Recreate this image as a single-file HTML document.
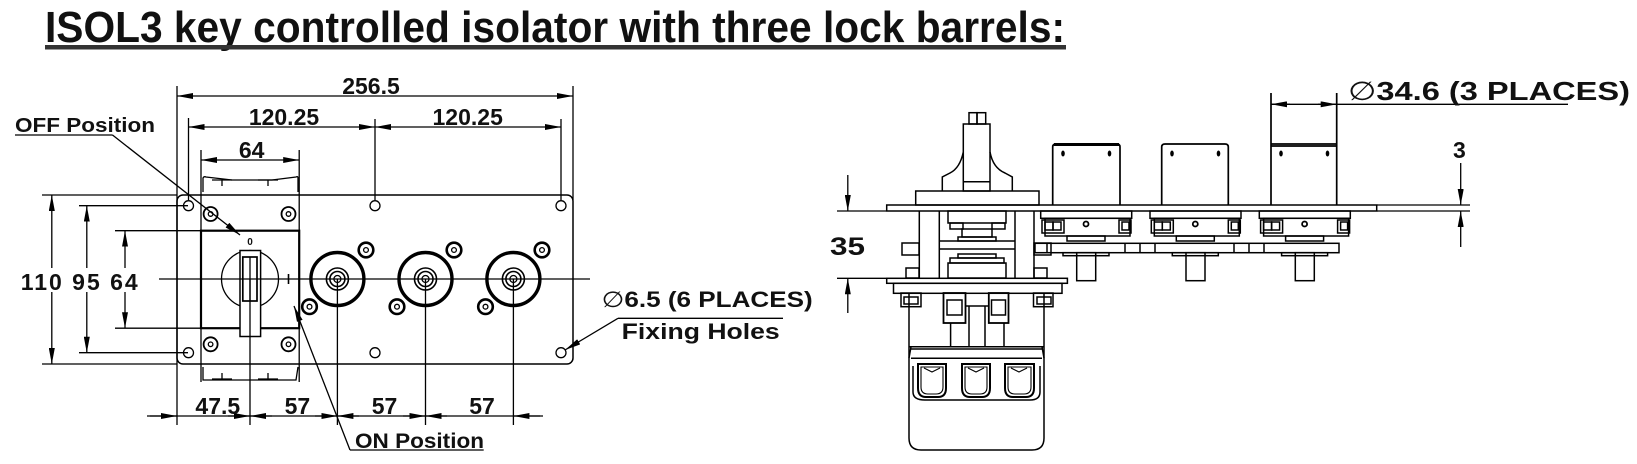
<!DOCTYPE html>
<html><head><meta charset="utf-8"><style>
html,body{margin:0;padding:0;background:#fff;}
svg{display:block;}
text{font-family:"Liberation Sans",Arial,sans-serif;font-weight:bold;fill:#111;}
</style></head><body>
<svg width="1637" height="464" viewBox="0 0 1637 464" xmlns="http://www.w3.org/2000/svg">
<defs>
<marker id="a" viewBox="0 0 16 6" refX="16" refY="3" markerWidth="16" markerHeight="6" markerUnits="userSpaceOnUse" orient="auto-start-reverse"><path d="M0,0L16,3L0,6z" fill="#000"/></marker>
</defs>
<!-- Title -->
<text x="45" y="42" font-size="44" textLength="1020" lengthAdjust="spacingAndGlyphs" fill="#333">ISOL3 key controlled isolator with three lock barrels:</text>
<rect x="45" y="45" width="1021" height="4.5" fill="#333"/>

<g stroke="#000" fill="none" stroke-width="1.3">
<line x1="177" y1="86" x2="177" y2="425"/>
<line x1="573" y1="86" x2="573" y2="200"/>
<line x1="188.5" y1="118" x2="188.5" y2="200"/>
<line x1="375" y1="119" x2="375" y2="200"/>
<line x1="561" y1="119" x2="561" y2="200"/>
<line x1="201" y1="150" x2="201" y2="382"/>
<line x1="299.2" y1="150" x2="299.2" y2="382"/>
<line x1="177" y1="96" x2="573" y2="96" marker-start="url(#a)" marker-end="url(#a)"/>
<line x1="188.5" y1="127" x2="375" y2="127" marker-start="url(#a)" marker-end="url(#a)"/>
<line x1="375" y1="127" x2="561" y2="127" marker-start="url(#a)" marker-end="url(#a)"/>
<line x1="201" y1="160" x2="299.2" y2="160" marker-start="url(#a)" marker-end="url(#a)"/>

<rect x="177" y="195" width="396" height="169" rx="6" stroke-width="1.5"/>
<path d="M203,192 L203,178 Q204,176 206,177 L232,180 L272,180 L296,177 Q298,176 298,178 L298,192"/>
<path d="M212,180 L232,180 M222,180 L222,186 M258,180 L278,180 M268,180 L268,186"/>
<path d="M203,367 L203,380 L296,380 L298,367"/>
<path d="M212,379 L232,379 M222,373 L222,379 M258,379 L278,379 M268,373 L268,379"/>
<rect x="201" y="230.7" width="98.2" height="97.5" stroke-width="2.2"/>
<circle cx="250" cy="279" r="28.5"/>
<rect x="240" y="250.5" width="20.6" height="86" fill="#fff" stroke-width="1.5"/>
<rect x="242.8" y="257" width="14.2" height="44" stroke-width="1.7"/>
<line x1="250" y1="257" x2="250" y2="301"/>
<g stroke-width="1.8">
<circle cx="210.6" cy="214" r="7"/><circle cx="288.5" cy="214" r="7"/>
<circle cx="210.6" cy="344.3" r="7"/><circle cx="288.5" cy="344.3" r="7"/>
</g>
<g stroke-width="1.3">
<circle cx="210.6" cy="214" r="2.3"/><circle cx="288.5" cy="214" r="2.3"/>
<circle cx="210.6" cy="344.3" r="2.3"/><circle cx="288.5" cy="344.3" r="2.3"/>
</g>
<g stroke-width="1.3">
<circle cx="188.5" cy="205.7" r="5"/><circle cx="375" cy="205.7" r="5"/><circle cx="561" cy="205.7" r="5"/>
<circle cx="188.5" cy="352.7" r="5"/><circle cx="375" cy="352.7" r="5"/><circle cx="561" cy="352.7" r="5"/>
</g>
<g>
<circle cx="337.4" cy="279" r="26.5" stroke-width="3.4"/>
<circle cx="337.4" cy="279" r="11" stroke-width="1.6"/><circle cx="337.4" cy="279" r="7.5" stroke-width="1.6"/><circle cx="337.4" cy="279" r="3.5"/>
<circle cx="425.5" cy="279" r="26.5" stroke-width="3.4"/>
<circle cx="425.5" cy="279" r="11" stroke-width="1.6"/><circle cx="425.5" cy="279" r="7.5" stroke-width="1.6"/><circle cx="425.5" cy="279" r="3.5"/>
<circle cx="513.4" cy="279" r="26.5" stroke-width="3.4"/>
<circle cx="513.4" cy="279" r="11" stroke-width="1.6"/><circle cx="513.4" cy="279" r="7.5" stroke-width="1.6"/><circle cx="513.4" cy="279" r="3.5"/>
</g>
<g stroke-width="2.6">
<circle cx="366" cy="250" r="7.3"/><circle cx="309.5" cy="306.7" r="7.3"/>
<circle cx="454" cy="250" r="7.3"/><circle cx="397" cy="306.7" r="7.3"/>
<circle cx="542" cy="250" r="7.3"/><circle cx="485.5" cy="306.7" r="7.3"/>
</g>
<g stroke-width="1.3">
<circle cx="366" cy="250" r="2.4"/><circle cx="309.5" cy="306.7" r="2.4"/>
<circle cx="454" cy="250" r="2.4"/><circle cx="397" cy="306.7" r="2.4"/>
<circle cx="542" cy="250" r="2.4"/><circle cx="485.5" cy="306.7" r="2.4"/>
</g>
<line x1="159" y1="279" x2="590" y2="279"/>
<line x1="250" y1="279" x2="250" y2="425"/>
<line x1="337.4" y1="279" x2="337.4" y2="425"/>
<line x1="425.5" y1="279" x2="425.5" y2="425"/>
<line x1="513.4" y1="279" x2="513.4" y2="425"/>
<line x1="288.5" y1="274" x2="288.5" y2="284" stroke-width="1.6"/>
<line x1="42" y1="195" x2="177" y2="195"/>
<line x1="42" y1="364" x2="177" y2="364"/>
<line x1="79" y1="205.7" x2="188" y2="205.7"/>
<line x1="79" y1="352.7" x2="188" y2="352.7"/>
<line x1="115" y1="230.7" x2="201" y2="230.7"/>
<line x1="115" y1="328.2" x2="201" y2="328.2"/>
<line x1="51.8" y1="268" x2="51.8" y2="195" marker-end="url(#a)"/>
<line x1="51.8" y1="292" x2="51.8" y2="364" marker-end="url(#a)"/>
<line x1="86.8" y1="268" x2="86.8" y2="205.7" marker-end="url(#a)"/>
<line x1="86.8" y1="292" x2="86.8" y2="352.7" marker-end="url(#a)"/>
<line x1="125" y1="268" x2="125" y2="230.7" marker-end="url(#a)"/>
<line x1="125" y1="292" x2="125" y2="328.2" marker-end="url(#a)"/>
<line x1="147" y1="416" x2="543" y2="416"/>
<line x1="150" y1="416" x2="177" y2="416" marker-end="url(#a)"/>
<line x1="228" y1="416" x2="250" y2="416" marker-end="url(#a)"/>
<line x1="272" y1="416" x2="250" y2="416" marker-end="url(#a)"/>
<line x1="315" y1="416" x2="337.4" y2="416" marker-end="url(#a)"/>
<line x1="359" y1="416" x2="337.4" y2="416" marker-end="url(#a)"/>
<line x1="403" y1="416" x2="425.5" y2="416" marker-end="url(#a)"/>
<line x1="447" y1="416" x2="425.5" y2="416" marker-end="url(#a)"/>
<line x1="540" y1="416" x2="513.4" y2="416" marker-end="url(#a)"/>
<line x1="15" y1="135" x2="112.5" y2="135"/>
<line x1="112.5" y1="135" x2="240" y2="235" marker-end="url(#a)"/>
<line x1="350" y1="450" x2="483.7" y2="450"/>
<line x1="350" y1="450" x2="294" y2="306" marker-end="url(#a)"/>
<line x1="618" y1="318.3" x2="783" y2="318.3"/>
<line x1="618" y1="318.3" x2="565" y2="350" marker-end="url(#a)"/>

<!-- RIGHT VIEW -->
<rect x="886.7" y="205" width="490" height="6" stroke-width="1.5"/>
<line x1="1377" y1="205" x2="1470" y2="205"/>
<line x1="1377" y1="211" x2="1470" y2="211"/>
<rect x="915.7" y="191" width="123.3" height="14" stroke-width="1.5"/>
<path d="M942.3,191 L942.3,177 L950,173 Q960,168 963.3,152 M1012.3,191 L1012.3,177 L1005,173 Q993,168 990,152" stroke-width="1.5"/>
<rect x="963.3" y="124" width="26.7" height="67" stroke-width="1.5"/>
<line x1="963.3" y1="181.7" x2="990" y2="181.7" stroke-width="1.5"/>
<rect x="969" y="112.7" width="8" height="11.3" stroke-width="1.5"/>
<rect x="977" y="112.7" width="8.7" height="11.3" stroke-width="1.5"/>
<g stroke-width="1.5">
<line x1="919.3" y1="211" x2="919.3" y2="278"/><line x1="939.3" y1="211" x2="939.3" y2="278"/>
<line x1="1015" y1="211" x2="1015" y2="278"/><line x1="1034" y1="211" x2="1034" y2="278"/>
<rect x="948" y="211" width="58" height="12"/><rect x="950" y="223" width="13" height="6"/><rect x="992" y="223" width="13" height="6"/>
<rect x="962" y="229" width="30" height="8"/><rect x="958" y="237" width="38" height="4"/>
<line x1="939.3" y1="241" x2="1015" y2="241"/><line x1="939.3" y1="249" x2="1015" y2="249"/>
<rect x="958" y="254" width="38" height="4"/><rect x="950" y="258" width="54" height="5"/>
<rect x="948" y="263" width="58" height="15"/>
<rect x="902" y="243" width="17" height="12"/><rect x="1034" y="243" width="17" height="12"/>
<rect x="906" y="268" width="13" height="10"/><rect x="1034" y="268" width="13" height="10"/>
<rect x="886.7" y="278.3" width="180.7" height="5"/>
<rect x="893.5" y="283.3" width="168.5" height="10"/>
<path d="M909,293 L909,438 Q909,450 921,450 L1032,450 Q1044,450 1044,438 L1044,293"/>
<rect x="901" y="293" width="20" height="13.7"/><rect x="904" y="297" width="14" height="7"/>
<rect x="1033.5" y="293" width="19.5" height="13.7"/><rect x="1037" y="297" width="14" height="7"/>
<rect x="943.5" y="293" width="22" height="30" stroke-width="1.8"/><rect x="947" y="300" width="15" height="15"/>
<rect x="988.8" y="293" width="19.7" height="30" stroke-width="1.8"/><rect x="991.5" y="300" width="14" height="15"/>
<path d="M965.5,306 L988.8,306 M950.6,323 L950.6,346.7 M969,306 L969,346.7 M985,306 L985,346.7 M1004,323 L1004,346.7"/>
<line x1="909" y1="346.7" x2="1044" y2="346.7"/>
<line x1="911" y1="349" x2="1042" y2="349"/>
<line x1="911" y1="358.3" x2="1042" y2="358.3"/>
<path d="M909,358 L911,346.7 M1044,358 L1042,346.7"/>
<path d="M913,366 L913,392 Q913,400 925,400 L1030,400 Q1040,400 1040,392 L1040,366"/>
</g>
<g stroke-width="2">
<path d="M918,364 L946,364 L946,388 Q946,397 938,397 L926,397 Q918,397 918,388 Z"/>
<path d="M962,364 L990,364 L990,388 Q990,397 982,397 L970,397 Q962,397 962,388 Z"/>
<path d="M1005,364 L1034,364 L1034,388 Q1034,397 1026,397 L1013,397 Q1005,397 1005,388 Z"/>
</g>
<g stroke-width="1.1">
<path d="M921,367 L943,367 L943,387 Q943,394 936,394 L928,394 Q921,394 921,387 Z M924,368 L932,372 L940,368"/>
<path d="M965,367 L987,367 L987,387 Q987,394 980,394 L972,394 Q965,394 965,387 Z M968,368 L976,372 L984,368"/>
<path d="M1008,367 L1031,367 L1031,387 Q1031,394 1024,394 L1015,394 Q1008,394 1008,387 Z M1011,368 L1019,372 L1027,368"/>
</g>
<g stroke-width="1.7">
<path d="M1052.7,205 L1052.7,147 Q1052.7,144 1056,144 L1117,144 Q1120,144 1120,147 L1120,205"/>
<path d="M1161.7,205 L1161.7,147 Q1161.7,144 1165,144 L1225,144 Q1228.3,144 1228.3,147 L1228.3,205"/>
<path d="M1271,205 L1271,93 M1336.7,205 L1336.7,93 M1271,144 L1336.7,144 M1271,146 L1336.7,146"/>
</g>
<line x1="1054" y1="144.5" x2="1119" y2="144.5" stroke-width="3"/>
<g fill="#000" stroke="none">
<ellipse cx="1063" cy="153.5" rx="1.8" ry="3"/><ellipse cx="1109.5" cy="153.5" rx="1.8" ry="3"/>
<ellipse cx="1172" cy="153.5" rx="1.8" ry="3"/><ellipse cx="1218.5" cy="153.5" rx="1.8" ry="3"/>
<ellipse cx="1281" cy="153.5" rx="1.8" ry="3"/><ellipse cx="1327.5" cy="153.5" rx="1.8" ry="3"/>
</g>
<g id="sub" stroke-width="1.5">
<rect x="1040.7" y="211" width="91" height="7.3"/>
<rect x="1045" y="218.3" width="85" height="17.7"/>
<rect x="1042" y="220" width="22" height="13"/><rect x="1045" y="222" width="8" height="8"/><rect x="1053" y="222" width="8" height="8"/>
<rect x="1119" y="220" width="12" height="13"/><rect x="1122" y="222" width="7" height="8"/>
<circle cx="1086" cy="224" r="2.5" stroke-width="1.8"/>
<rect x="1067" y="236" width="38" height="5"/>
<rect x="1076.7" y="252.7" width="19" height="28"/>
<rect x="1063" y="252.7" width="46" height="3"/>
</g>
<use href="#sub" x="109.3"/>
<use href="#sub" x="218.6"/>
<rect x="1035" y="243.3" width="304" height="9.4" stroke-width="1.5"/>
<g stroke-width="1.5">
<line x1="1047" y1="243.3" x2="1047" y2="252.7"/><line x1="1125" y1="243.3" x2="1125" y2="252.7"/><line x1="1140" y1="243.3" x2="1140" y2="252.7"/><line x1="1155" y1="243.3" x2="1155" y2="252.7"/>
<line x1="1234" y1="243.3" x2="1234" y2="252.7"/><line x1="1249" y1="243.3" x2="1249" y2="252.7"/><line x1="1264" y1="243.3" x2="1264" y2="252.7"/>
</g>
<line x1="837" y1="211" x2="886" y2="211"/>
<line x1="837" y1="278.3" x2="886" y2="278.3"/>
<line x1="847.8" y1="175" x2="847.8" y2="211" marker-end="url(#a)"/>
<line x1="847.8" y1="313" x2="847.8" y2="278.3" marker-end="url(#a)"/>
<line x1="1460.7" y1="163" x2="1460.7" y2="205" marker-end="url(#a)"/>
<line x1="1460.7" y1="247" x2="1460.7" y2="211" marker-end="url(#a)"/>
<line x1="1290" y1="104.3" x2="1271" y2="104.3" marker-end="url(#a)"/>
<line x1="1318" y1="104.3" x2="1336.7" y2="104.3" marker-end="url(#a)"/>
<line x1="1271" y1="104.3" x2="1568" y2="104.3"/>
</g>

<text x="371" y="94" font-size="23" text-anchor="middle">256.5</text>
<text x="284" y="125" font-size="23" text-anchor="middle">120.25</text>
<text x="467.7" y="125" font-size="23" text-anchor="middle">120.25</text>
<text x="251.7" y="158" font-size="23" text-anchor="middle">64</text>
<text x="15" y="132" font-size="20" textLength="140" lengthAdjust="spacingAndGlyphs">OFF Position</text>
<text x="250" y="245" font-size="10" font-weight="normal" text-anchor="middle">0</text>
<text x="20.7" y="290" font-size="23" textLength="117" lengthAdjust="spacing">110 95 64</text>
<text x="217.8" y="414" font-size="23" text-anchor="middle">47.5</text>
<text x="297.4" y="414" font-size="23" text-anchor="middle">57</text>
<text x="384.5" y="414" font-size="23" text-anchor="middle">57</text>
<text x="482" y="414" font-size="23" text-anchor="middle">57</text>
<text x="355" y="448" font-size="21" textLength="129" lengthAdjust="spacingAndGlyphs">ON Position</text>
<text x="601.7" y="307" font-size="22" textLength="211" lengthAdjust="spacingAndGlyphs"><tspan font-weight="normal">∅</tspan>6.5 (6 PLACES)</text>
<text x="621.7" y="339" font-size="22" textLength="158" lengthAdjust="spacingAndGlyphs">Fixing Holes</text>
<text x="830" y="255" font-size="25" textLength="35" lengthAdjust="spacingAndGlyphs">35</text>
<text x="1453" y="158" font-size="23">3</text>
<text x="1348" y="100" font-size="26" textLength="282" lengthAdjust="spacingAndGlyphs"><tspan font-weight="normal">∅</tspan>34.6 (3 PLACES)</text>
</svg>
</body></html>
